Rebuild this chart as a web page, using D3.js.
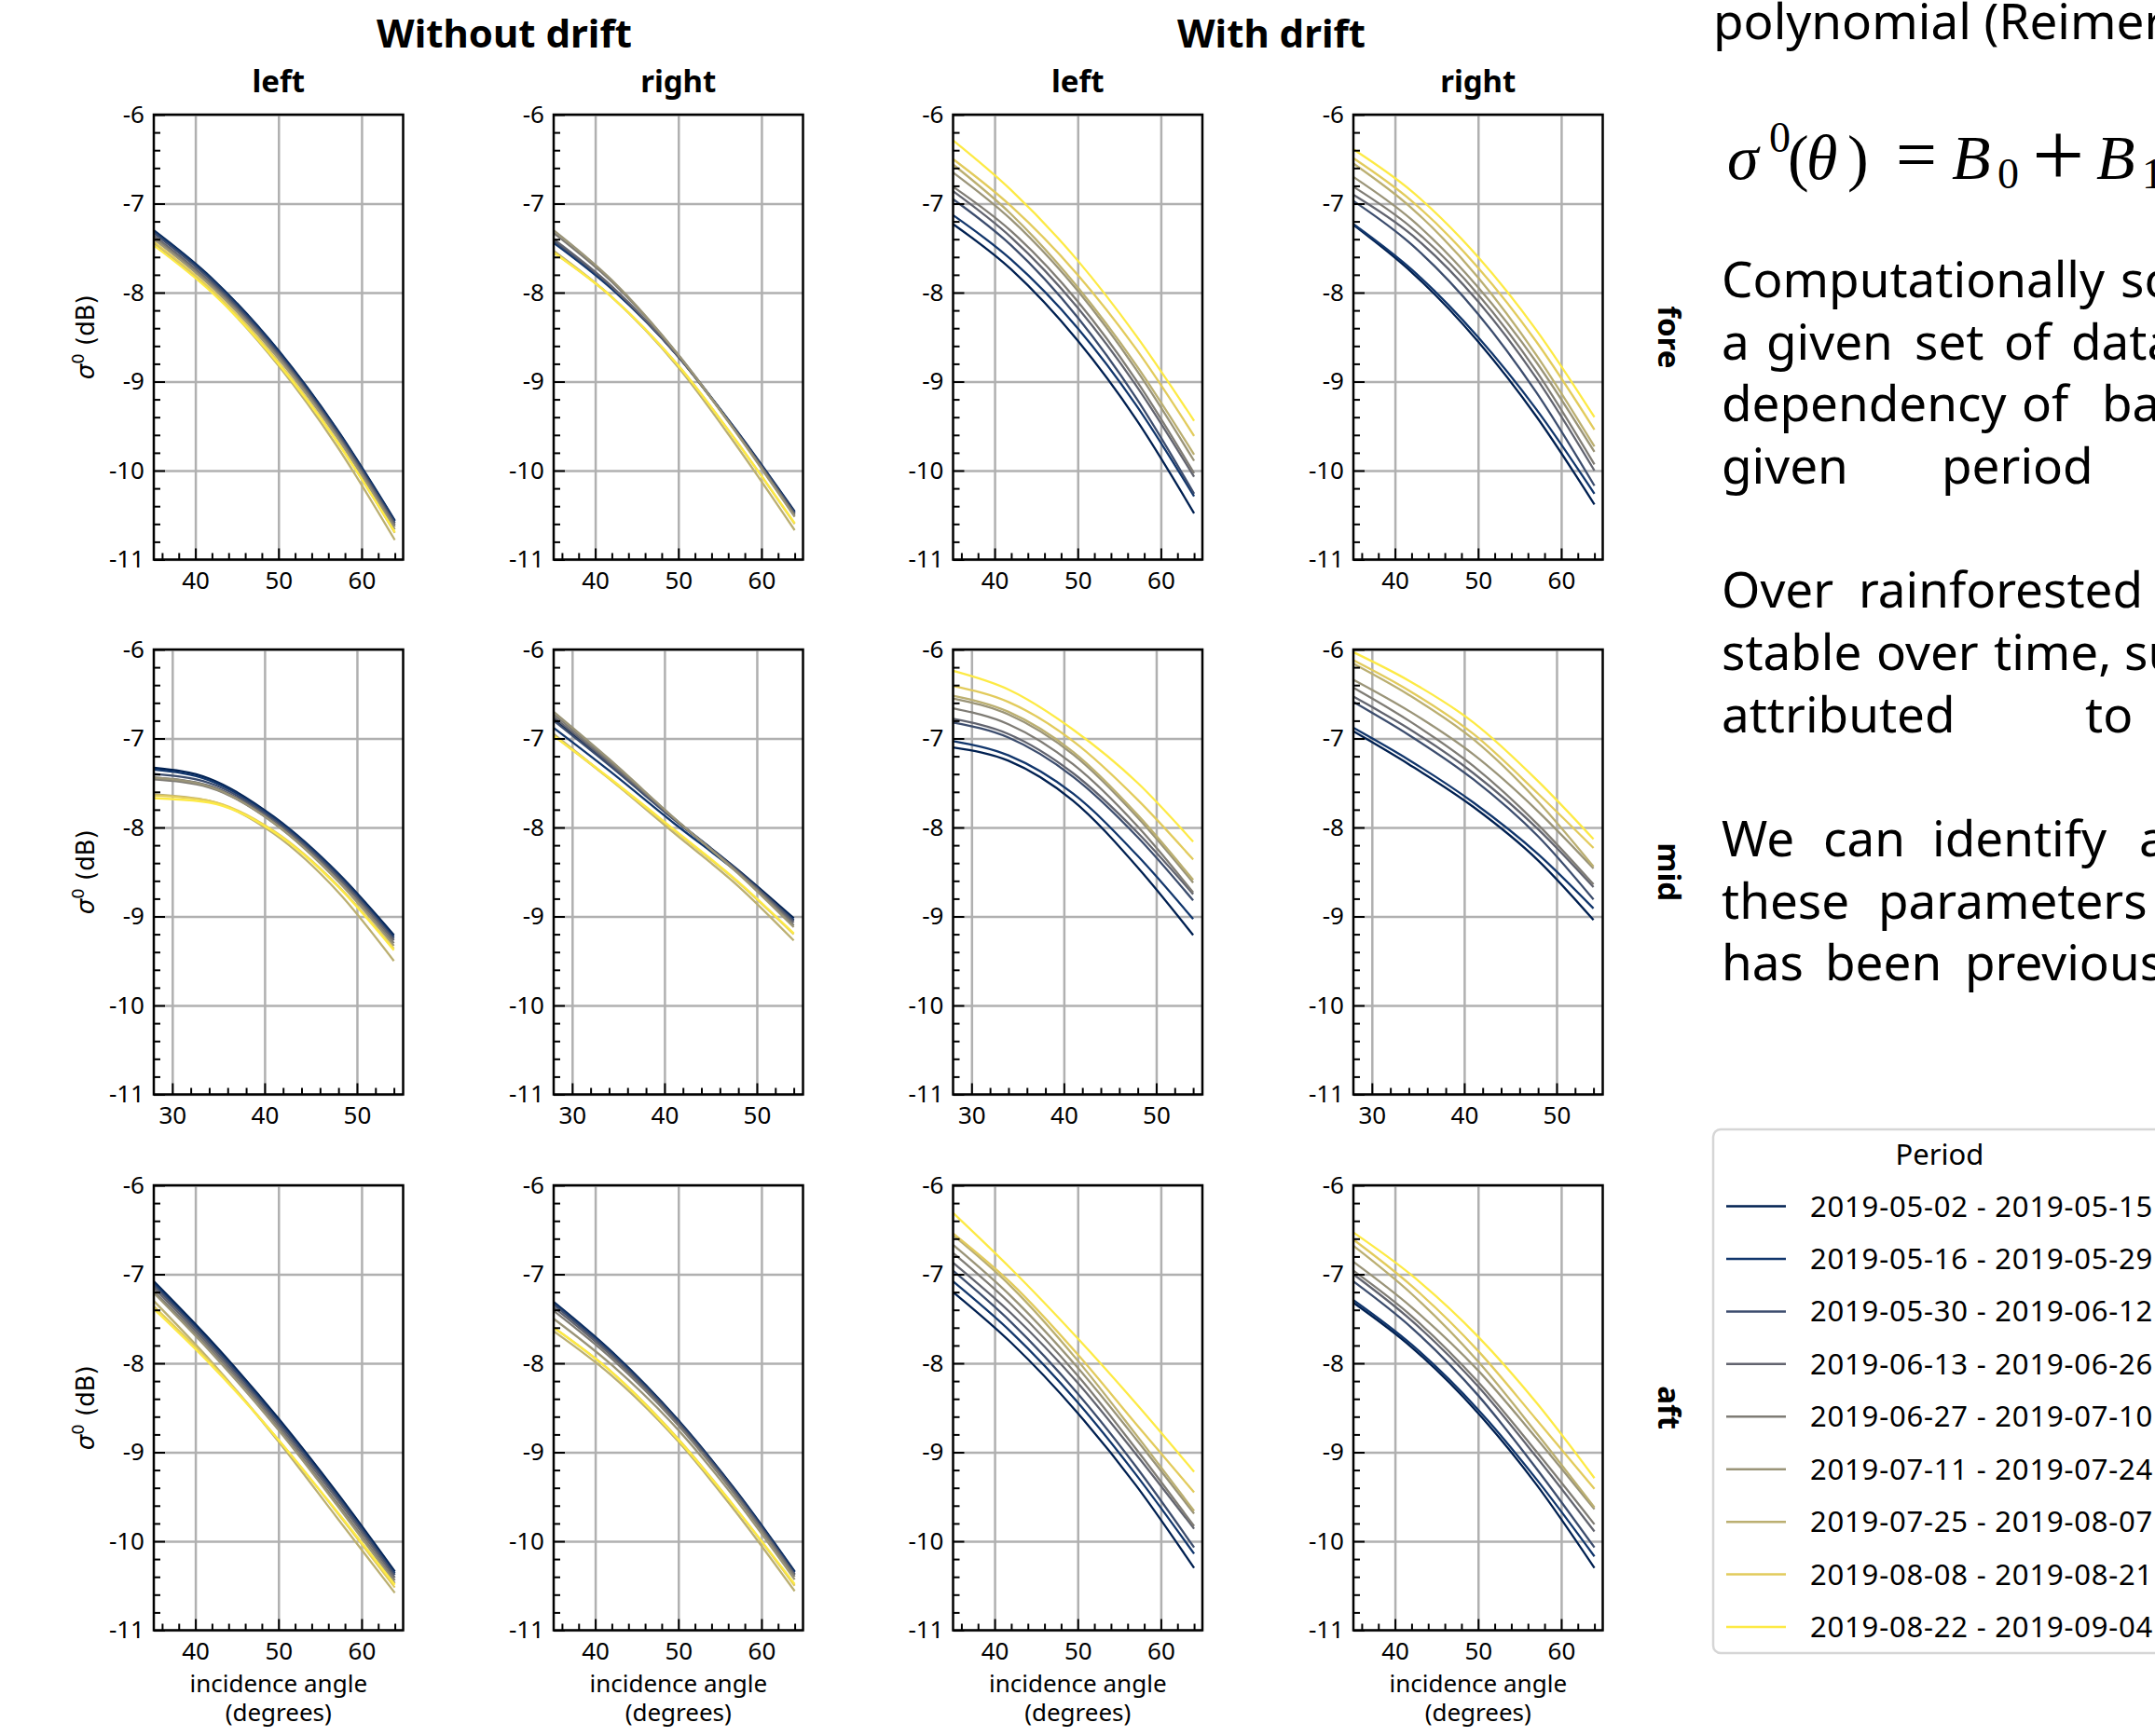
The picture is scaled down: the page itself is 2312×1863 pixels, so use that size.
<!DOCTYPE html>
<html>
<head>
<meta charset="utf-8">
<script src="https://cdn.jsdelivr.net/npm/d3@7"></script>
<style>
  body { margin: 0; background: #fff; }
  svg { display: block; font-family: "Noto Sans", sans-serif; }
</style>
</head>
<body>
<div id="chart"></div>
<script>
// periods (legend) and panel layout labels
var periods = [
  "2019-05-02 - 2019-05-15", "2019-05-16 - 2019-05-29", "2019-05-30 - 2019-06-12",
  "2019-06-13 - 2019-06-26", "2019-06-27 - 2019-07-10", "2019-07-11 - 2019-07-24",
  "2019-07-25 - 2019-08-07", "2019-08-08 - 2019-08-21", "2019-08-22 - 2019-09-04"
];
var rowNames = ["fore", "mid", "aft"];
var groupNames = ["Without drift", "With drift"];
var sideNames = ["left", "right", "left", "right"];

// incidence angles where the curves were read (fore/aft rows and mid row)
var anglesOuter = [35, 42, 50, 57, 64];
var anglesMid = [28, 34, 41, 48, 54];
var xTicksOuter = [40, 50, 60];
var xTicksMid = [30, 40, 50];
var yTicks = [-11, -10, -9, -8, -7, -6];

// sigma0 (dB), one row per period
var foreNoDriftLeft = [
  [-7.30, -7.84, -8.65, -9.53, -10.56],
  [-7.31, -7.85, -8.66, -9.54, -10.57],
  [-7.33, -7.87, -8.68, -9.56, -10.59],
  [-7.36, -7.90, -8.70, -9.58, -10.61],
  [-7.38, -7.92, -8.72, -9.60, -10.63],
  [-7.40, -7.94, -8.74, -9.62, -10.66],
  [-7.44, -7.99, -8.82, -9.72, -10.78],
  [-7.43, -7.97, -8.78, -9.66, -10.70],
  [-7.47, -8.00, -8.80, -9.67, -10.69]
];
var foreNoDriftRight = [
  [-7.43, -7.95, -8.72, -9.55, -10.46],
  [-7.44, -7.96, -8.72, -9.56, -10.47],
  [-7.42, -7.94, -8.72, -9.56, -10.48],
  [-7.40, -7.93, -8.72, -9.57, -10.49],
  [-7.33, -7.88, -8.70, -9.57, -10.51],
  [-7.30, -7.86, -8.70, -9.58, -10.52],
  [-7.53, -8.05, -8.84, -9.72, -10.67],
  [-7.55, -8.05, -8.82, -9.67, -10.60],
  [-7.55, -8.05, -8.82, -9.67, -10.59]
];
var foreDriftLeft = [
  [-7.23, -7.74, -8.54, -9.42, -10.48],
  [-7.13, -7.63, -8.40, -9.26, -10.29],
  [-6.95, -7.47, -8.28, -9.18, -10.26],
  [-6.86, -7.38, -8.17, -9.04, -10.07],
  [-6.81, -7.31, -8.10, -8.98, -10.03],
  [-6.65, -7.18, -7.98, -8.86, -9.89],
  [-6.56, -7.12, -7.94, -8.81, -9.82],
  [-6.50, -7.03, -7.80, -8.63, -9.61],
  [-6.29, -6.85, -7.64, -8.48, -9.44]
];
var foreDriftRight = [
  [-7.24, -7.77, -8.55, -9.39, -10.38],
  [-7.23, -7.74, -8.50, -9.31, -10.26],
  [-6.97, -7.46, -8.24, -9.12, -10.17],
  [-6.90, -7.35, -8.10, -8.96, -10.00],
  [-6.81, -7.27, -8.02, -8.88, -9.93],
  [-6.70, -7.18, -7.94, -8.78, -9.79],
  [-6.55, -7.05, -7.83, -8.70, -9.73],
  [-6.49, -6.97, -7.72, -8.55, -9.54],
  [-6.39, -6.86, -7.60, -8.42, -9.40]
];
var midNoDriftLeft = [
  [-7.33, -7.45, -7.88, -8.52, -9.21],
  [-7.35, -7.47, -7.89, -8.53, -9.23],
  [-7.40, -7.50, -7.91, -8.55, -9.25],
  [-7.44, -7.53, -7.93, -8.57, -9.27],
  [-7.46, -7.55, -7.95, -8.60, -9.30],
  [-7.44, -7.54, -7.95, -8.61, -9.33],
  [-7.63, -7.70, -8.07, -8.73, -9.50],
  [-7.64, -7.70, -8.04, -8.66, -9.36],
  [-7.67, -7.72, -8.05, -8.67, -9.38]
];
var midNoDriftRight = [
  [-6.78, -7.28, -7.90, -8.48, -9.02],
  [-6.88, -7.36, -7.95, -8.51, -9.04],
  [-6.80, -7.30, -7.91, -8.49, -9.05],
  [-6.76, -7.27, -7.90, -8.50, -9.07],
  [-6.73, -7.25, -7.89, -8.51, -9.10],
  [-6.70, -7.23, -7.89, -8.52, -9.12],
  [-6.95, -7.45, -8.06, -8.66, -9.27],
  [-6.97, -7.45, -8.03, -8.62, -9.20],
  [-6.97, -7.44, -8.02, -8.61, -9.19]
];
var midDriftLeft = [
  [-7.10, -7.25, -7.70, -8.45, -9.21],
  [-7.03, -7.19, -7.62, -8.32, -9.03],
  [-6.82, -6.99, -7.43, -8.11, -8.82],
  [-6.78, -6.95, -7.39, -8.06, -8.75],
  [-6.66, -6.84, -7.29, -7.99, -8.73],
  [-6.55, -6.73, -7.18, -7.89, -8.62],
  [-6.52, -6.70, -7.15, -7.86, -8.59],
  [-6.41, -6.59, -7.03, -7.69, -8.36],
  [-6.24, -6.45, -6.90, -7.50, -8.16]
];
var midDriftRight = [
  [-6.92, -7.29, -7.77, -8.37, -9.04],
  [-6.88, -7.24, -7.72, -8.30, -8.91],
  [-6.59, -6.96, -7.46, -8.10, -8.81],
  [-6.53, -6.89, -7.39, -8.02, -8.67],
  [-6.43, -6.80, -7.31, -7.97, -8.64],
  [-6.34, -6.69, -7.18, -7.82, -8.46],
  [-6.16, -6.51, -7.01, -7.71, -8.44],
  [-6.12, -6.46, -6.95, -7.62, -8.23],
  [-6.03, -6.35, -6.82, -7.48, -8.13]
];
var aftNoDriftLeft = [
  [-7.08, -7.76, -8.62, -9.45, -10.34],
  [-7.10, -7.78, -8.64, -9.47, -10.36],
  [-7.12, -7.80, -8.66, -9.49, -10.38],
  [-7.15, -7.83, -8.69, -9.52, -10.41],
  [-7.19, -7.86, -8.72, -9.56, -10.44],
  [-7.21, -7.89, -8.75, -9.59, -10.47],
  [-7.30, -7.99, -8.88, -9.73, -10.58],
  [-7.36, -8.01, -8.86, -9.67, -10.52],
  [-7.39, -8.03, -8.86, -9.66, -10.49]
];
var aftNoDriftRight = [
  [-7.31, -7.87, -8.64, -9.44, -10.34],
  [-7.32, -7.88, -8.65, -9.45, -10.35],
  [-7.34, -7.90, -8.66, -9.46, -10.37],
  [-7.37, -7.92, -8.68, -9.48, -10.38],
  [-7.41, -7.95, -8.70, -9.50, -10.40],
  [-7.50, -8.02, -8.75, -9.54, -10.43],
  [-7.64, -8.14, -8.88, -9.68, -10.56],
  [-7.60, -8.10, -8.85, -9.64, -10.50],
  [-7.60, -8.10, -8.86, -9.64, -10.48]
];
var aftDriftLeft = [
  [-7.20, -7.77, -8.56, -9.37, -10.30],
  [-7.08, -7.65, -8.44, -9.25, -10.14],
  [-6.96, -7.54, -8.34, -9.16, -10.07],
  [-6.87, -7.44, -8.22, -9.02, -9.86],
  [-6.76, -7.34, -8.14, -8.96, -9.83],
  [-6.67, -7.25, -8.05, -8.85, -9.69],
  [-6.56, -7.14, -7.97, -8.80, -9.66],
  [-6.54, -7.10, -7.90, -8.68, -9.45],
  [-6.31, -6.94, -7.72, -8.45, -9.22]
];
var aftDriftRight = [
  [-7.32, -7.82, -8.56, -9.36, -10.30],
  [-7.29, -7.79, -8.52, -9.30, -10.17],
  [-7.08, -7.60, -8.36, -9.18, -10.07],
  [-7.00, -7.52, -8.26, -9.05, -9.89],
  [-6.96, -7.47, -8.21, -8.99, -9.81],
  [-6.86, -7.37, -8.08, -8.84, -9.64],
  [-6.68, -7.22, -7.98, -8.78, -9.62],
  [-6.61, -7.13, -7.86, -8.63, -9.41],
  [-6.53, -7.01, -7.70, -8.44, -9.29]
];

var panelData = [
  [foreNoDriftLeft, foreNoDriftRight, foreDriftLeft, foreDriftRight],
  [midNoDriftLeft, midNoDriftRight, midDriftLeft, midDriftRight],
  [aftNoDriftLeft, aftNoDriftRight, aftDriftLeft, aftDriftRight]
];

var W = 2312, H = 1863;
var colLeft = [165, 594, 1022.5, 1452];
var rowTop = [123, 697, 1272];
var pw = 267.5, ph = 477.5;
var gridColor = "#b0b0b0";
var sans = "Noto Sans, sans-serif";

var color = function(i) { return d3.interpolateCividis(i / (periods.length - 1)); };

var svg = d3.select("#chart").append("svg")
  .attr("width", W)
  .attr("height", H);
svg.append("rect").attr("width", W).attr("height", H).attr("fill", "#fff");

var y = d3.scaleLinear().domain([-11, -6]).range([ph, 0]);

rowNames.forEach(function(rowName, r) {
  var isMid = r === 1;
  var angles = isMid ? anglesMid : anglesOuter;
  var x = d3.scaleLinear().domain(isMid ? [28, 55] : [35, 65]).range([0, pw]);
  var majorX = isMid ? xTicksMid : xTicksOuter;
  var minorX = (isMid ? d3.range(30, 55, 2) : d3.range(36, 65, 2))
    .filter(function(v) { return v % 10 !== 0; });
  var minorY = d3.range(-10.8, -6, 0.2).filter(function(v) {
    return Math.abs(v - Math.round(v)) > 0.01;
  });

  panelData[r].forEach(function(curves, c) {
    var g = svg.append("g")
      .attr("transform", "translate(" + colLeft[c] + "," + rowTop[r] + ")");

    // grid
    g.append("g")
      .attr("transform", "translate(0," + ph + ")")
      .call(d3.axisBottom(x).tickValues(majorX).tickSize(-ph).tickFormat(""))
      .call(function(a) {
        a.select(".domain").remove();
        a.selectAll("line").attr("stroke", gridColor).attr("stroke-width", 2.5);
      });
    g.append("g")
      .call(d3.axisLeft(y).tickValues(yTicks).tickSize(-pw).tickFormat(""))
      .call(function(a) {
        a.select(".domain").remove();
        a.selectAll("line").attr("stroke", gridColor).attr("stroke-width", 2.5);
      });

    // curves
    var line = d3.line()
      .x(function(d, i) { return x(angles[i]); })
      .y(function(d) { return y(d); })
      .curve(d3.curveMonotoneX);
    g.selectAll(".curve").data(curves).enter().append("path")
      .attr("class", "curve")
      .attr("d", line)
      .attr("fill", "none")
      .attr("stroke", function(d, i) { return color(i); })
      .attr("stroke-width", 2.3);

    // frame
    g.append("rect")
      .attr("width", pw).attr("height", ph)
      .attr("fill", "none").attr("stroke", "#000").attr("stroke-width", 2.5);

    // ticks (pointing inward)
    var bx = g.append("g").attr("transform", "translate(0," + ph + ")");
    bx.append("g")
      .call(d3.axisBottom(x).tickValues(majorX).tickSize(-12).tickPadding(13))
      .call(function(a) {
        a.select(".domain").remove();
        a.selectAll("line").attr("stroke", "#000").attr("stroke-width", 2);
        a.selectAll("text").attr("font-size", 26).attr("font-family", sans);
      });
    bx.append("g")
      .call(d3.axisBottom(x).tickValues(minorX).tickSize(-7).tickFormat(""))
      .call(function(a) {
        a.select(".domain").remove();
        a.selectAll("line").attr("stroke", "#000").attr("stroke-width", 2);
      });
    g.append("g")
      .call(d3.axisLeft(y).tickValues(yTicks).tickSize(-12).tickPadding(10)
        .tickFormat(function(v) { return String(v); }))
      .call(function(a) {
        a.select(".domain").remove();
        a.selectAll("line").attr("stroke", "#000").attr("stroke-width", 2);
        a.selectAll("text").attr("font-size", 26).attr("font-family", sans);
      });
    g.append("g")
      .call(d3.axisLeft(y).tickValues(minorY).tickSize(-7).tickFormat(""))
      .call(function(a) {
        a.select(".domain").remove();
        a.selectAll("line").attr("stroke", "#000").attr("stroke-width", 2);
      });

    // y label on first column
    if (c === 0) {
      var yl = svg.append("text")
        .attr("transform", "translate(101," + (rowTop[r] + ph / 2) + ") rotate(-90)")
        .attr("text-anchor", "middle")
        .attr("font-family", "DejaVu Sans, sans-serif")
        .attr("font-size", 26);
      yl.append("tspan").attr("font-style", "italic").text("σ");
      yl.append("tspan").attr("font-size", 18).attr("dy", -11).text("0");
      yl.append("tspan").attr("dy", 11).text(" (dB)");
    }
    // x label on bottom row
    if (r === 2) {
      var cx = colLeft[c] + pw / 2;
      svg.append("text").attr("x", cx).attr("y", 1816).attr("text-anchor", "middle")
        .attr("font-size", 26).text("incidence angle");
      svg.append("text").attr("x", cx).attr("y", 1847).attr("text-anchor", "middle")
        .attr("font-size", 26).text("(degrees)");
    }
  });

  // row label on the right
  svg.append("text")
    .attr("transform", "translate(1779," + (rowTop[r] + ph / 2) + ") rotate(90)")
    .attr("text-anchor", "middle")
    .attr("font-size", 33).attr("font-weight", "bold")
    .text(rowName);
});

// column headings
[541, 1364].forEach(function(cx, i) {
  svg.append("text").attr("x", cx).attr("y", 51).attr("text-anchor", "middle")
    .attr("font-size", 42).attr("font-weight", "bold").text(groupNames[i]);
});
sideNames.forEach(function(s, c) {
  svg.append("text").attr("x", colLeft[c] + pw / 2).attr("y", 99).attr("text-anchor", "middle")
    .attr("font-size", 33).attr("font-weight", "bold").text(s);
});

// text block on the right (cut by the page edge)
svg.append("text").attr("x", 1838).attr("y", 42).attr("font-size", 53).text("polynomial (Reimer");

var serif = "Liberation Serif, serif";
function ftxt(xp, yp, size, italic, t) {
  svg.append("text").attr("x", xp).attr("y", yp).attr("font-size", size)
    .attr("font-family", serif).attr("font-style", italic ? "italic" : "normal").text(t);
}
ftxt(1853, 192, 68, true, "σ");
ftxt(1898, 163, 46, false, "0");
ftxt(1918, 192, 68, false, "(");
ftxt(1938, 192, 68, true, "θ");
ftxt(1982, 192, 68, false, ")");
ftxt(2034, 192, 78, false, "=");
ftxt(2094, 192, 68, true, "B");
ftxt(2143, 202, 46, false, "0");
ftxt(2180, 200, 100, false, "+");
ftxt(2249, 192, 68, true, "B");
ftxt(2298, 202, 46, false, "1");

var paraLines = [
  { y: 319, words: [["Computationally", 1847], ["sc", 2275]] },
  { y: 386, words: [["a", 1847], ["given", 1895], ["set", 2054], ["of", 2150], ["data", 2222]] },
  { y: 452, words: [["dependency", 1847], ["of", 2169], ["ba", 2255]] },
  { y: 519, words: [["given", 1847], ["period", 2083]] },
  { y: 652, words: [["Over", 1847], ["rainforested", 1994]] },
  { y: 719, words: [["stable", 1847], ["over", 2013], ["time,", 2139], ["su", 2279]] },
  { y: 786, words: [["attributed", 1847], ["to", 2237]] },
  { y: 919, words: [["We", 1847], ["can", 1956], ["identify", 2073], ["a", 2295]] },
  { y: 986, words: [["these", 1847], ["parameters", 2015]] },
  { y: 1052, words: [["has", 1847], ["been", 1958], ["previous", 2108]] }
];
paraLines.forEach(function(l) {
  l.words.forEach(function(w) {
    svg.append("text").attr("x", w[1]).attr("y", l.y).attr("font-size", 53).text(w[0]);
  });
});

// legend
var lg = svg.append("g");
lg.append("rect").attr("x", 1838).attr("y", 1212).attr("width", 486).attr("height", 562)
  .attr("rx", 8).attr("fill", "#fff").attr("stroke", "#d6d6d6").attr("stroke-width", 2.5);
lg.append("text").attr("x", 2081).attr("y", 1250).attr("text-anchor", "middle")
  .attr("font-size", 31).text("Period");
var ly = d3.scaleLinear().domain([0, periods.length - 1]).range([1294.5, 1746]);
periods.forEach(function(p, i) {
  lg.append("line").attr("x1", 1852).attr("x2", 1916).attr("y1", ly(i)).attr("y2", ly(i))
    .attr("stroke", color(i)).attr("stroke-width", 2.5);
  lg.append("text").attr("x", 1942).attr("y", ly(i) + 11).attr("font-size", 31)
    .attr("letter-spacing", 0.8).text(p);
});
</script>
</body>
</html>
